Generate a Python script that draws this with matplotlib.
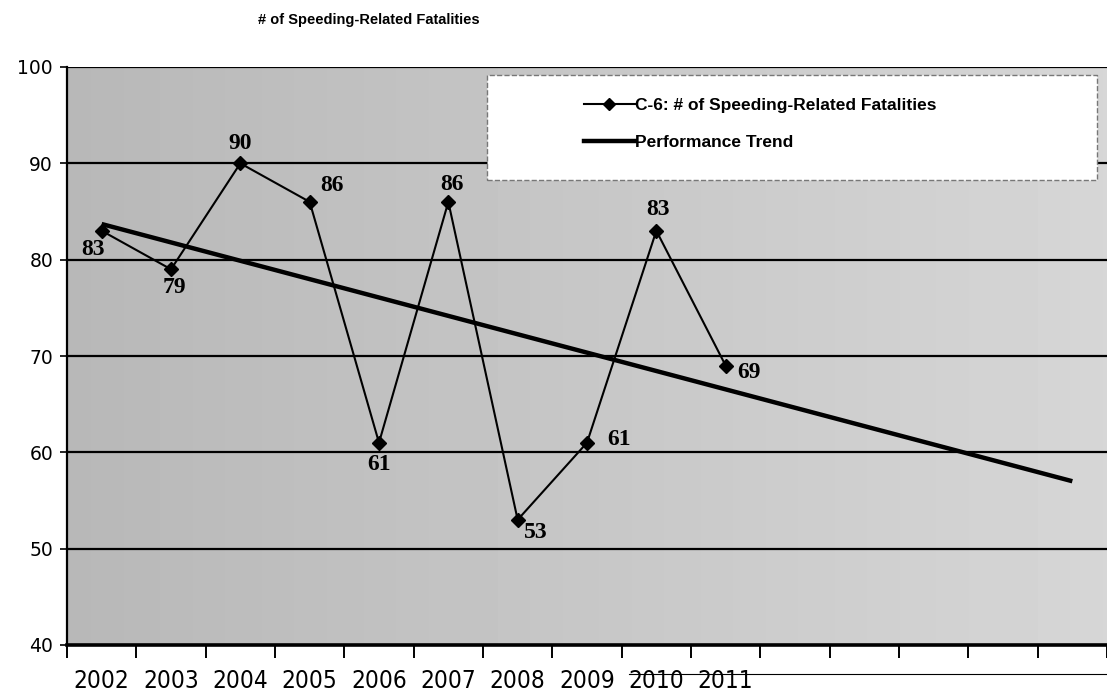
import matplotlib
matplotlib.use("Agg")
import matplotlib.pyplot as plt
import matplotlib.transforms as mtransforms
from matplotlib.lines import Line2D
from matplotlib.patches import Rectangle
import numpy as np

# data
years = ["2002", "2003", "2004", "2005", "2006", "2007", "2008", "2009", "2010", "2011"]
fatalities = [83, 79, 90, 86, 61, 86, 53, 61, 83, 69]
n_categories = 15  # axis runs on past 2011 (blank categories) for the trend
trend_x = [0, 14]
trend_y = [83.7, 57.0]

# label offsets in pixels (dx, dy up)
label_offsets = [(-9, -19), (3, -18), (0, 20), (22, 16), (0, -22),
                 (4, 17), (18, -13), (32, 3), (2, 21), (23, -7)]

DPI = 100
fig = plt.figure(figsize=(11.07, 6.94), dpi=DPI)
ax = fig.add_axes([67 / 1107, 49 / 694, 1 - 67 / 1107, 578 / 694])

x = np.arange(len(years))
ax.set_xlim(-0.5, n_categories - 0.5)
ax.set_ylim(40, 100)

# gray plot area (gradient stands in for the dithered fill)
grad = np.linspace(0.72, 0.84, 256).reshape(1, -1)
ax.imshow(grad, extent=(-0.5, n_categories - 0.5, 40, 100), aspect="auto",
          cmap="gray", vmin=0, vmax=1, zorder=0)

for yv in [50, 60, 70, 80, 90, 100]:
    ax.axhline(yv, color="black", lw=1.6, zorder=1)

ax.plot(trend_x, trend_y, color="black", lw=3.2, solid_capstyle="butt", zorder=3)
ax.plot(x, fatalities, color="black", lw=1.5, marker="D", markersize=7, zorder=4)

for xi, v, (dx, dy) in zip(x, fatalities, label_offsets):
    ax.annotate(str(v), (xi, v), xytext=(dx * 72 / DPI, dy * 72 / DPI),
                textcoords="offset points", ha="center", va="center",
                fontsize=17, fontweight="bold", family="Liberation Serif", zorder=5)

# axes styling
for s in ["top", "right"]:
    ax.spines[s].set_visible(False)
ax.spines["left"].set_linewidth(1.6)
ax.spines["bottom"].set_linewidth(2.6)
ax.set_yticks([40, 50, 60, 70, 80, 90, 100])
ax.tick_params(axis="y", length=5, width=1.2, pad=5, labelsize=13.5)

ax.set_xticks(np.arange(-0.5, n_categories, 1.0))
ax.set_xticklabels([])
ax.tick_params(axis="x", length=9, width=1.4)
for xi, yr in zip(x, years):
    ax.text(xi, -0.058, yr, transform=ax.get_xaxis_transform(), ha="center", va="center_baseline",
            fontsize=17.5, family="DejaVu Sans", stretch="condensed", clip_on=False)
# stray line through the last labels
trans = mtransforms.blended_transform_factory(ax.transData, ax.transAxes)
ax.plot([7.6, n_categories - 0.5], [-0.0505, -0.0505], color="black", lw=0.8,
        transform=trans, clip_on=False)

# legend box
ax.add_patch(Rectangle((0.404, 0.804), 0.586, 0.182, transform=ax.transAxes,
                       facecolor="white", edgecolor="#777777", lw=1, ls="--", zorder=6))
handles = [Line2D([], [], color="black", lw=1.5, marker="D", markersize=6),
           Line2D([], [], color="black", lw=3.2)]
leg = ax.legend(handles, ["C-6: # of Speeding-Related Fatalities", "Performance Trend"],
                loc="upper left", bbox_to_anchor=(0.489, 0.962), frameon=False,
                handlelength=2.9, handletextpad=0.05, labelspacing=1.25, borderpad=0,
                prop={"family": "Liberation Sans", "weight": "bold", "size": 12.5})
leg.set_zorder(7)

fig.text(369 / 1107, 1 - 20 / 694, "# of Speeding-Related Fatalities", ha="center", va="center",
         fontsize=10.5, fontweight="bold", family="Liberation Sans")

fig.savefig("out.png", dpi=DPI)
